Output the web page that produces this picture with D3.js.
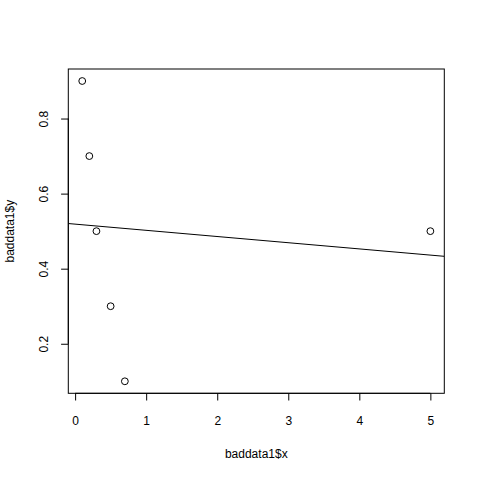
<!DOCTYPE html>
<html><head><meta charset="utf-8">
<script src="https://cdn.jsdelivr.net/npm/d3@7"></script>
<style>body{margin:0;background:#fff}svg{display:block}text{font-family:"Liberation Sans",Arial,Helvetica,sans-serif;font-size:12px;fill:#000}</style>
</head><body>
<script>
const xValues = [0.1, 0.2, 0.3, 0.5, 0.7, 5];
const yValues = [0.9, 0.7, 0.5, 0.3, 0.1, 0.5];
const xTicks = [0, 1, 2, 3, 4, 5];
const yTicks = [0.2, 0.4, 0.6, 0.8];
const xTitle = "baddata1$x";
const yTitle = "baddata1$y";

const W = 480, H = 480;
const L = 68.3, R = 444.3, T = 69, B = 393.3;
const svg = d3.select("body").append("svg").attr("width", W).attr("height", H);

function ext(v){const mn=d3.min(v),mx=d3.max(v),d=(mx-mn)*0.04;return [mn-d,mx+d];}
const x = d3.scaleLinear().domain(ext(xValues)).range([L, R]);
const y = d3.scaleLinear().domain(ext(yValues)).range([B, T]);

// regression line
const mx = d3.mean(xValues), my = d3.mean(yValues);
let sxy=0,sxx=0;
xValues.forEach((v,i)=>{sxy+=(v-mx)*(yValues[i]-my);sxx+=(v-mx)*(v-mx);});
const slope = sxy/sxx, icpt = my - slope*mx;
const [x0,x1] = x.domain();

svg.append("defs").append("clipPath").attr("id","c").append("rect")
  .attr("x",L).attr("y",T).attr("width",R-L).attr("height",B-T);

svg.append("line").attr("clip-path","url(#c)")
  .attr("x1",x(x0)).attr("y1",y(icpt+slope*x0))
  .attr("x2",x(x1)).attr("y2",y(icpt+slope*x1))
  .attr("stroke","#000").attr("stroke-width",1);

svg.append("g").selectAll("circle").data(xValues).join("circle")
  .attr("cx",(d)=>x(d)).attr("cy",(d,i)=>y(yValues[i])).attr("r",3.4)
  .attr("fill","none").attr("stroke","#000").attr("stroke-width",1);

svg.append("rect").attr("x",L).attr("y",T).attr("width",R-L).attr("height",B-T)
  .attr("fill","none").attr("stroke","#000").attr("stroke-width",1);

const xa = svg.append("g").attr("transform",`translate(0,${B})`)
  .call(d3.axisBottom(x).tickValues(xTicks).tickSize(7.2).tickPadding(16).tickFormat(d3.format("d")));
xa.select(".domain").attr("d",`M${x(xTicks[0])},0H${x(xTicks[xTicks.length-1])}`);

const ya = svg.append("g").attr("transform",`translate(${L},0)`)
  .call(d3.axisLeft(y).tickValues(yTicks).tickSize(7.2).tickFormat(d3.format(".1f")));
ya.select(".domain").attr("d",`M0,${y(yTicks[0])}V${y(yTicks[yTicks.length-1])}`);
ya.selectAll(".tick text").attr("x",0).attr("dy",null).attr("text-anchor","middle")
  .attr("transform","translate(-25,0) rotate(-90)").attr("dy","0.35em");

svg.selectAll(".tick text").style("font-size","12px").style("font-family","'Liberation Sans',Arial,sans-serif").attr("fill","#000");
svg.selectAll(".domain,.tick line").attr("stroke","#000");

svg.append("text").attr("x",(L+R)/2).attr("y",458).attr("text-anchor","middle").text(xTitle);
svg.append("text").attr("transform",`translate(14,${(T+B)/2}) rotate(-90)`).attr("text-anchor","middle").text(yTitle);
</script>
</body></html>
